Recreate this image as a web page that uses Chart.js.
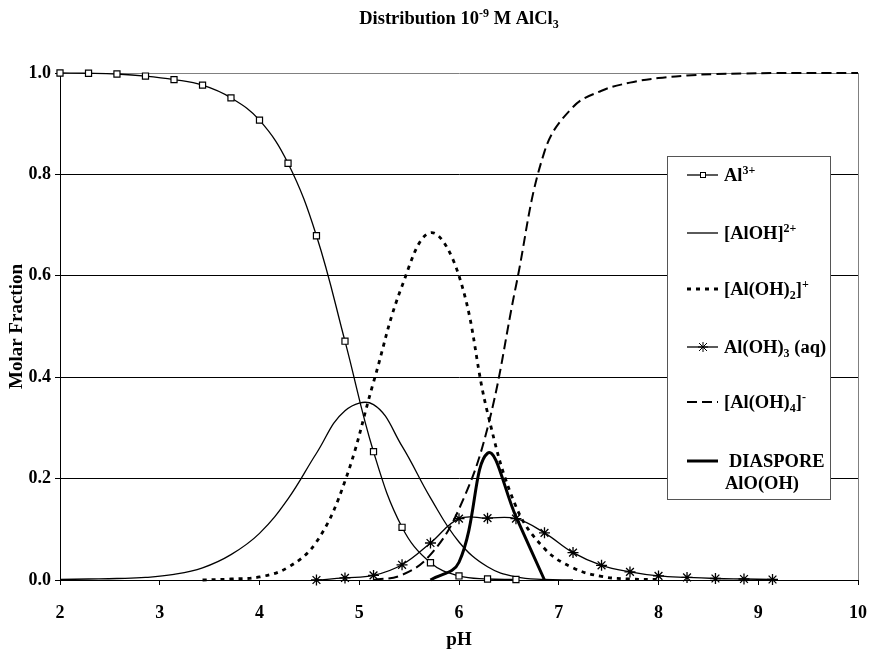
<!DOCTYPE html>
<html>
<head>
<meta charset="utf-8">
<script src="https://cdn.jsdelivr.net/npm/chart.js@4.4.0/dist/chart.umd.min.js"></script>
<style>
  html, body { margin: 0; padding: 0; background: #fff; }
</style>
</head>
<body>
<canvas id="myChart" width="869" height="650"></canvas>
<script>
// pH grid shared by every series (Excel sheet step of 2/7)
var ph = [2.000, 2.286, 2.571, 2.857, 3.143, 3.429, 3.714, 4.000, 4.286, 4.571,
          4.857, 5.143, 5.429, 5.714, 6.000, 6.286, 6.571, 6.857, 7.143, 7.429,
          7.714, 8.000, 8.286, 8.571, 8.857, 9.143, 9.429, 9.714, 10.000];

var al3 = [1.000, 0.9995, 0.998, 0.994, 0.987, 0.976, 0.951, 0.907, 0.822, 0.679,
           0.471, 0.253, 0.104, 0.034, 0.008, 0.002, 0.001];
var aloh = [0.001, 0.002, 0.003, 0.005, 0.011, 0.024, 0.050, 0.092, 0.160, 0.250,
            0.334, 0.346, 0.264, 0.162, 0.075, 0.026, 0.006, 0.001, 0.000];
var aloh2 = [null, null, null, null, null, 0.000, 0.002, 0.006, 0.025, 0.075,
             0.195, 0.390, 0.580, 0.685, 0.600, 0.330, 0.145, 0.062, 0.024, 0.007,
             0.002, 0.001];
var aloh3 = [null, null, null, null, null, null, null, null, null, 0.000,
             0.004, 0.009, 0.030, 0.073, 0.121, 0.122, 0.121, 0.093, 0.054, 0.029,
             0.016, 0.008, 0.005, 0.003, 0.002, 0.001];
var aloh4 = [null, null, null, null, null, null, null, null, null, null,
             null, 0.000, 0.010, 0.050, 0.140, 0.300, 0.580, 0.845, 0.933, 0.965,
             0.981, 0.990, 0.995, 0.998, 0.999, 1.000, 1.000, 1.000, 1.000];
var diaspore = [null, null, null, null, null, null, null, null, null, null,
                null, null, null, 0.000, 0.035, 0.250, 0.125, 0.000];

var yTicks = [0, 0.2, 0.4, 0.6, 0.8, 1.0];

// labels with sub/superscripts: [text, 'sup'|'sub']
var names = [
  [['Al'], ['3+', 'sup']],
  [['[AlOH]'], ['2+', 'sup']],
  [['[Al(OH)'], ['2', 'sub'], [']'], ['+', 'sup']],
  [['Al(OH)'], ['3', 'sub'], [' (aq)']],
  [['[Al(OH)'], ['4', 'sub'], [']'], ['-', 'sup']],
  [['DIASPORE']]
];
var titleText = [['Distribution 10'], ['-9', 'sup'], [' M AlCl'], ['3', 'sub']];

var FONT = '"Liberation Serif", "Times New Roman", serif';

function pts(arr) {
  var out = [];
  for (var i = 0; i < arr.length; i++) {
    if (arr[i] !== null) out.push({x: ph[i], y: arr[i]});
  }
  return out;
}

function drawRich(ctx, segs, x, y, size, align) {
  var w = 0;
  segs.forEach(function (s) {
    ctx.font = 'bold ' + (s[1] ? size * 0.65 : size) + 'px ' + FONT;
    w += ctx.measureText(s[0]).width;
  });
  var cx = align === 'center' ? x - w / 2 : x;
  segs.forEach(function (s) {
    ctx.font = 'bold ' + (s[1] ? size * 0.65 : size) + 'px ' + FONT;
    var dy = s[1] === 'sup' ? -size * 0.36 : (s[1] === 'sub' ? size * 0.2 : 0);
    ctx.fillText(s[0], cx, y + dy);
    cx += ctx.measureText(s[0]).width;
  });
}

function drawMarker(ctx, style, x, y) {
  ctx.save();
  ctx.strokeStyle = '#000';
  ctx.lineWidth = 1;
  if (style === 'rect') {
    ctx.fillStyle = '#fff';
    ctx.fillRect(x - 2.5, y - 2.5, 5, 5);
    ctx.strokeRect(x - 2.5, y - 2.5, 5, 5);
  } else if (style === 'star') {
    ctx.beginPath();
    ctx.moveTo(x - 4, y - 4); ctx.lineTo(x + 4, y + 4);
    ctx.moveTo(x + 4, y - 4); ctx.lineTo(x - 4, y + 4);
    ctx.moveTo(x, y - 5); ctx.lineTo(x, y + 5);
    ctx.moveTo(x - 5, y); ctx.lineTo(x + 5, y);
    ctx.stroke();
  }
  ctx.restore();
}

var textPlugin = {
  id: 'textPlugin',
  afterDraw: function (chart) {
    var ctx = chart.ctx;
    var area = chart.chartArea;
    ctx.save();
    ctx.fillStyle = '#000';
    ctx.textBaseline = 'alphabetic';
    drawRich(ctx, titleText, (area.left + area.right) / 2, 24, 18.5, 'center');

    // legend box
    ctx.fillStyle = '#fff';
    ctx.fillRect(667, 156, 163, 343);
    ctx.strokeStyle = '#555';
    ctx.lineWidth = 1;
    ctx.strokeRect(667.5, 156.5, 163, 343);

    var rows = [175, 233, 289, 347, 402, 461];
    chart.data.datasets.forEach(function (ds, i) {
      var y = rows[i];
      ctx.save();
      ctx.strokeStyle = '#000';
      ctx.lineWidth = ds.borderWidth;
      ctx.setLineDash(ds.borderDash || []);
      ctx.beginPath();
      ctx.moveTo(687, y);
      ctx.lineTo(718, y);
      ctx.stroke();
      ctx.restore();
      if (ds.pointRadius > 0) drawMarker(ctx, ds.pointStyle, 703, y);
      ctx.fillStyle = '#000';
      drawRich(ctx, names[i], i === 5 ? 729 : 724, y + 6, 18.5, 'left');
    });
    drawRich(ctx, [['AlO(OH)']], 725, 489, 18.5, 'left');
    ctx.restore();
  }
};

var common = {
  borderColor: '#000',
  backgroundColor: '#000',
  fill: false,
  tension: 0.4,
  clip: false,
  pointRadius: 0
};

var datasets = [
  Object.assign({}, common, {data: pts(al3), borderWidth: 1.3, pointRadius: 4.3,
    pointStyle: 'rect', pointBackgroundColor: '#fff', pointBorderColor: '#000', pointBorderWidth: 1.2}),
  Object.assign({}, common, {data: pts(aloh), borderWidth: 1.3}),
  Object.assign({}, common, {data: pts(aloh2), borderWidth: 2.8, borderDash: [4, 5]}),
  Object.assign({}, common, {data: pts(aloh3), borderWidth: 1.3, pointRadius: 5.5,
    pointStyle: 'star', pointBorderColor: '#000', pointBorderWidth: 1.3}),
  Object.assign({}, common, {data: pts(aloh4), borderWidth: 2, borderDash: [10, 5]}),
  Object.assign({}, common, {data: pts(diaspore), borderWidth: 3})
];

var tickFont = {family: FONT, size: 18, weight: 'bold'};

var config = {
  type: 'line',
  data: {datasets: datasets},
  options: {
    responsive: false,
    animation: false,
    devicePixelRatio: 1,
    layout: {padding: {top: 73, right: 11, bottom: 0, left: 0}},
    plugins: {legend: {display: false}, title: {display: false}, tooltip: {enabled: false}},
    scales: {
      x: {
        type: 'linear',
        min: 2,
        max: 10,
        afterFit: function (s) { s.height = 70; s.paddingLeft = 0; s.paddingRight = 0; },
        ticks: {stepSize: 1, color: '#000', font: tickFont, padding: 18},
        grid: {
          color: function (c) { return c.tick && c.tick.value === 10 ? '#808080' : 'rgba(0,0,0,0)'; },
          tickColor: '#000',
          tickLength: 5
        },
        border: {color: '#000', width: 1},
        title: {display: true, text: 'pH', color: '#000', font: {family: FONT, size: 19, weight: 'bold', lineHeight: 1},
          padding: {top: 0, bottom: 0}}
      },
      y: {
        min: 0,
        max: 1,
        afterFit: function (s) { s.width = 60; s.paddingTop = 0; s.paddingBottom = 0; },
        afterBuildTicks: function (s) { s.ticks = yTicks.map(function (v) { return {value: v}; }); },
        ticks: {color: '#000', font: tickFont, padding: 4,
          callback: function (v) { return v.toFixed(1); }},
        grid: {
          color: function (c) { return c.tick && c.tick.value === 1 ? '#808080' : '#000'; },
          tickColor: '#000',
          tickLength: 5
        },
        border: {color: '#000', width: 1},
        title: {display: true, text: 'Molar Fraction', color: '#000', font: {family: FONT, size: 19, weight: 'bold', lineHeight: 1},
          padding: {top: 8, bottom: 0}}
      }
    }
  },
  plugins: [textPlugin]
};

var mychart = new Chart(document.getElementById('myChart'), config);
</script>
</body>
</html>
